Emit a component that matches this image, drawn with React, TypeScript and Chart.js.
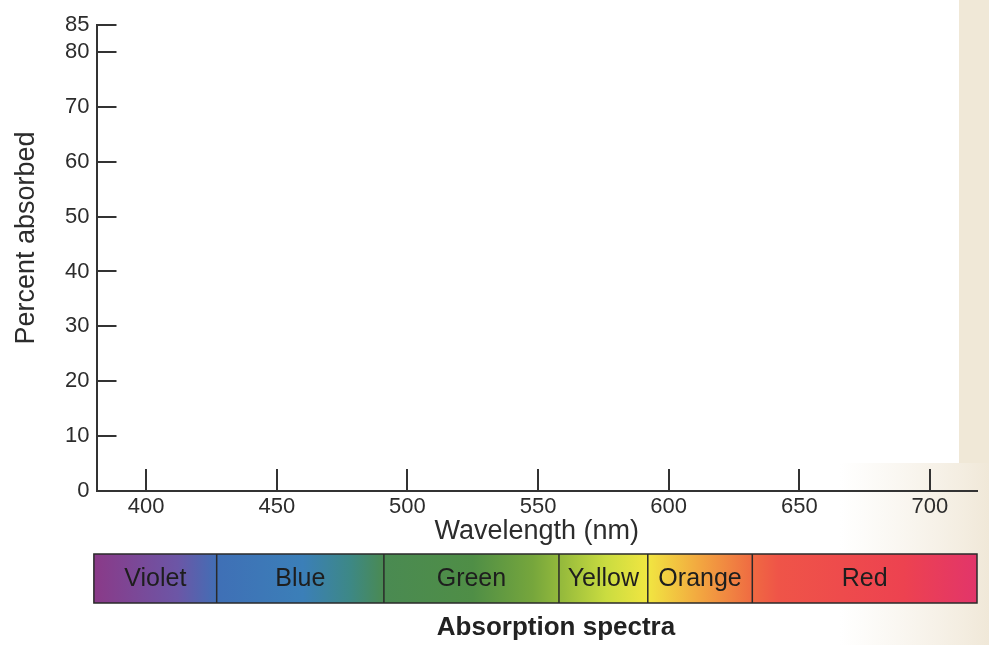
import React, { useEffect, useRef } from "react";
import { Chart, registerables } from "chart.js";

Chart.register(...registerables);

// ---- data ----
const xTickValues = [400, 450, 500, 550, 600, 650, 700];
const yTickValues = [0, 10, 20, 30, 40, 50, 60, 70, 80, 85];
const xRange = [381, 718];
const yRange = [0, 85];
const bandNames = ["Violet", "Blue", "Green", "Yellow", "Orange", "Red"];
const bandEdges = [380, 427, 491, 558, 592, 632, 718];
const xTitle = "Wavelength (nm)";
const yTitle = "Percent absorbed";
const caption = "Absorption spectra";

// ---- style ----
const FONT = "'Liberation Sans', Arial, Helvetica, sans-serif";
const INK = "#333333";
const TEXT = "#2c2c2c";
const spectrumStops: [number, string][] = [
  [380, "#8a3a88"],
  [412, "#6c56a6"],
  [428, "#3f70b6"],
  [460, "#3b7fb8"],
  [478, "#3d8886"],
  [491, "#4a8a52"],
  [525, "#4f8e46"],
  [548, "#76a63c"],
  [560, "#98bc3c"],
  [576, "#cadc40"],
  [592, "#f1e641"],
  [612, "#f2a640"],
  [632, "#ef6a42"],
  [642, "#ef5448"],
  [690, "#ed4250"],
  [718, "#e2356a"],
];

const decorPlugin = {
  id: "decor",
  beforeDraw(chart: any) {
    const { ctx, width, height } = chart;
    ctx.save();
    ctx.fillStyle = "#ffffff";
    ctx.fillRect(0, 0, width, height);
    // paper tint of the scan, lower right
    const g = ctx.createLinearGradient(840, 0, width, 0);
    g.addColorStop(0, "rgba(246,241,231,0)");
    g.addColorStop(0.6, "rgba(245,239,228,0.8)");
    g.addColorStop(1, "rgba(240,232,216,1)");
    ctx.fillStyle = g;
    ctx.fillRect(840, 463, width - 840, height - 463);
    ctx.fillStyle = "#f0e8d7";
    ctx.fillRect(959, 0, width - 959, 463);
    ctx.restore();
  },
  afterDraw(chart: any) {
    const { ctx, chartArea } = chart;
    const xs = chart.scales.x;
    ctx.save();

    // spectrum bar
    const top = chartArea.bottom + 63;
    const h = 49;
    const x0 = xs.getPixelForValue(bandEdges[0]);
    const x1 = xs.getPixelForValue(bandEdges[bandEdges.length - 1]);
    const grad = ctx.createLinearGradient(x0, 0, x1, 0);
    spectrumStops.forEach(([w, c]) => {
      const t = Math.min(1, Math.max(0, (xs.getPixelForValue(w) - x0) / (x1 - x0)));
      grad.addColorStop(t, c);
    });
    ctx.fillStyle = grad;
    ctx.fillRect(x0, top, x1 - x0, h);
    ctx.strokeStyle = "#2a2a2a";
    ctx.lineWidth = 1.5;
    ctx.strokeRect(x0, top, x1 - x0, h);
    for (let i = 1; i < bandEdges.length - 1; i++) {
      const px = xs.getPixelForValue(bandEdges[i]);
      ctx.beginPath();
      ctx.moveTo(px, top);
      ctx.lineTo(px, top + h);
      ctx.stroke();
    }
    ctx.fillStyle = "#1e1e1e";
    ctx.font = `25px ${FONT}`;
    ctx.textAlign = "center";
    ctx.textBaseline = "middle";
    bandNames.forEach((name, i) => {
      const a = xs.getPixelForValue(bandEdges[i]);
      const b = xs.getPixelForValue(bandEdges[i + 1]);
      ctx.fillText(name, (a + b) / 2, top + h / 2 + 1);
    });

    // caption
    ctx.fillStyle = "#222222";
    ctx.font = `bold 26px ${FONT}`;
    ctx.textAlign = "center";
    ctx.textBaseline = "alphabetic";
    ctx.fillText(caption, 556, 635);

    // y title
    ctx.translate(27, 238);
    ctx.rotate(-Math.PI / 2);
    ctx.fillStyle = TEXT;
    ctx.font = `27px ${FONT}`;
    ctx.textAlign = "center";
    ctx.textBaseline = "middle";
    ctx.fillText(yTitle, 0, 0);
    ctx.restore();
  },
};

export default function App() {
  const ref = useRef<HTMLCanvasElement>(null);
  useEffect(() => {
    if (!ref.current) return;
    const chart = new Chart(ref.current, {
      type: "scatter",
      data: { datasets: [] },
      plugins: [decorPlugin],
      options: {
        animation: false,
        responsive: false,
        layout: { padding: { top: 24.5, left: 0, right: 12, bottom: 100 } },
        plugins: {
          legend: { display: false },
          tooltip: { enabled: false },
        },
        scales: {
          x: {
            type: "linear",
            min: xRange[0],
            max: xRange[1],
            afterBuildTicks: (s: any) => {
              s.ticks = xTickValues.map((v) => ({ value: v }));
            },
            afterFit: (s: any) => {
              s.height = 54;
            },
            border: { display: true, color: INK, width: 2 },
            grid: {
              drawOnChartArea: false,
              drawTicks: true,
              tickLength: -22,
              color: INK,
              tickColor: INK,
              lineWidth: 2,
              tickWidth: 2,
            },
            ticks: {
              padding: 25,
              color: TEXT,
              font: { family: FONT, size: 22 },
              maxRotation: 0,
              autoSkip: false,
            },
            title: {
              display: true,
              text: xTitle,
              color: TEXT,
              font: { family: FONT, size: 27, lineHeight: 1 },
              padding: { top: 0, bottom: 0 },
            },
          },
          y: {
            type: "linear",
            min: yRange[0],
            max: yRange[1],
            afterBuildTicks: (s: any) => {
              s.ticks = yTickValues.map((v) => ({ value: v }));
            },
            afterFit: (s: any) => {
              s.width = 96.5;
              s.paddingTop = 12;
              s.paddingBottom = 12;
            },
            border: { display: true, color: INK, width: 2 },
            grid: {
              drawOnChartArea: false,
              drawTicks: true,
              tickLength: -20,
              color: INK,
              tickColor: INK,
              lineWidth: 2,
              tickWidth: 2,
            },
            ticks: {
              padding: 27,
              color: TEXT,
              font: { family: FONT, size: 22 },
              autoSkip: false,
            },
          },
        },
      },
    } as any);
    return () => chart.destroy();
  }, []);
  return (
    <div style={{ position: "fixed", left: 0, top: 0, width: 989, height: 645 }}>
      <canvas ref={ref} width={989} height={645} style={{ display: "block" }} />
    </div>
  );
}
